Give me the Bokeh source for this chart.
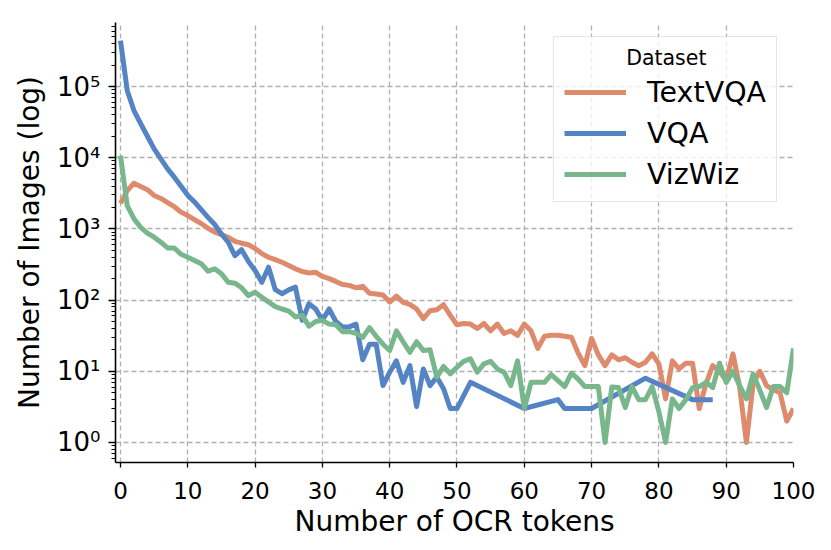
from bokeh.plotting import figure
from bokeh.models import (Range1d, FixedTicker, CustomJSTickFormatter, Legend, LegendItem,
                          Label, BoxAnnotation)
from bokeh.embed import file_html
from bokeh.resources import INLINE

# ---- data ----
tokens = list(range(0, 101))

textvqa = [2280, 3450, 4380, 3950, 3560, 2950, 2680, 2340, 2050, 1720,
           1540, 1350, 1190, 1020, 900, 830, 760, 670, 630, 600,
           530, 450, 400, 370, 340, 307, 275, 252, 240, 246,
           215, 200, 183, 166, 161, 149, 156, 125, 122, 118,
           94, 114, 93, 87, 75, 55, 71, 73, 86, 61,
           45, 47, 46, 40, 47, 37, 46, 34, 37, 32,
           46, 37, 21, 31, 32, 32, 31, 30, 18, 12,
           29, 17, 12, 17, 14.5, 15.5, 13.4, 12, 13.4, 17.6,
           12.7, 4.1, 14, 10.8, 13, 13, 3, 6.7, 12, 10,
           7.4, 17.6, 6, 1, 6.7, 10, 6.3, 5.5, 5, 2,
           3]

vqa_tokens = list(range(0, 51)) + [52, 60, 65, 66, 70, 78, 85, 88]
vqa = [440000, 88000, 46000, 30000, 20000, 13300, 9600, 6950, 5330, 3960,
       2960, 2390, 1860, 1450, 1150, 850, 650, 420, 510, 350,
       260, 178, 290, 140, 123, 139, 152, 52, 89, 75,
       52, 75, 50, 42, 42, 46, 14.5, 24, 24, 6.3,
       9.7, 14, 7, 12, 3.2, 10.8, 6.3, 8.3, 5.7, 3,
       3, 7, 3, 4, 3, 3, 8, 4, 4]

vizwiz = [10700, 2130, 1390, 1050, 870, 765, 650, 540, 540, 440,
          400, 360, 325, 255, 275, 235, 178, 173, 149, 116,
          129, 110, 94, 81, 75, 70, 58, 61, 43, 50,
          52, 46, 45, 36, 36, 34, 30, 41, 31, 24,
          19.6, 37, 26, 18.5, 26, 19.6, 20, 8.3, 11.7, 9.2,
          11.4, 13.8, 15, 9.7, 12.7, 13.8, 10.8, 9.7, 6.3, 14,
          3, 7, 7, 7, 9, 7.4, 6.1, 9.4, 7.8, 6.1,
          6.1, 6.1, 1, 6, 5.9, 3.1, 6.1, 4, 4, 6.1,
          2.7, 1, 4.1, 3, 4, 5.9, 6.1, 7, 5.9, 13,
          7, 10, 6.3, 4.1, 9.2, 5.4, 3.1, 6.1, 6.1, 5,
          21]

series_names = ["TextVQA", "VQA", "VizWiz"]
legend_title = "Dataset"
colors = ["#DD8B6C", "#5584C4", "#78B68B"]
x_ticks = [0, 10, 20, 30, 40, 50, 60, 70, 80, 90, 100]
y_ticks = [1, 10, 100, 1000, 10000, 100000]

FONT = "DejaVu Sans"

p = figure(width=823, height=542, y_axis_type="log",
           x_range=Range1d(-0.74, 100), y_range=Range1d(10 ** -0.281, 10 ** 5.899),
           output_backend="svg", toolbar_location=None,
           min_border_left=115, min_border_right=30, min_border_top=22, min_border_bottom=80)
p.outline_line_color = None
p.background_fill_color = "white"
p.border_fill_color = "white"

renderers = []
for xs, ys, c in [(tokens, textvqa, colors[0]), (vqa_tokens, vqa, colors[1]), (tokens, vizwiz, colors[2])]:
    r = p.line(xs, ys, line_color=c, line_width=5, line_join="round", line_cap="butt")
    renderers.append(r)

# axes
p.xaxis.ticker = FixedTicker(ticks=x_ticks)
minor = [m * 10 ** k for k in range(-1, 6) for m in range(2, 10)]
p.yaxis.ticker = FixedTicker(ticks=y_ticks, minor_ticks=minor)
p.yaxis.formatter = CustomJSTickFormatter(code="""
const sup = ['\u2070','\u00b9','\u00b2','\u00b3','\u2074','\u2075','\u2076','\u2077','\u2078','\u2079'];
const e = Math.round(Math.log10(tick));
let s = String(Math.abs(e)).split('').map(c => sup[+c]).join('');
if (e < 0) s = '\u207b' + s;
return '10' + s;
""")

for ax in [p.xaxis[0], p.yaxis[0]]:
    ax.axis_line_color = "black"
    ax.axis_line_width = 1.6
    ax.major_tick_line_color = "black"
    ax.major_tick_line_width = 1.3
    ax.minor_tick_line_color = "black"
    ax.minor_tick_line_width = 1.0
    ax.major_tick_in = 0
    ax.minor_tick_in = 0
    ax.major_label_text_font = FONT
    ax.axis_label_text_font = FONT
    ax.axis_label_text_font_style = "normal"
    ax.major_label_text_color = "black"
    ax.axis_label_text_color = "black"

p.xaxis.major_tick_out = 5
p.xaxis.minor_tick_out = 0
p.xaxis.major_label_text_font_size = "23px"
p.xaxis.major_label_standoff = 14
p.xaxis.axis_label = "Number of OCR tokens"
p.xaxis.axis_label_text_font_size = "28px"
p.xaxis.axis_label_standoff = 3

p.yaxis.major_tick_out = 7
p.yaxis.minor_tick_out = 4
p.yaxis.major_label_text_font_size = "26px"
p.yaxis.major_label_standoff = 8
p.yaxis.axis_label = "Number of Images (log)"
p.yaxis.axis_label_text_font_size = "28px"
p.yaxis.axis_label_standoff = 8

for g in [p.xgrid[0], p.ygrid[0]]:
    g.grid_line_color = "#b0b0b0"
    g.grid_line_width = 1.3
    g.grid_line_dash = "5 3"

# semi-opaque white panel behind the legend (same footprint as the legend box)
p.add_layout(BoxAnnotation(left=64.34, right=97.6, bottom=10 ** 3.371, top=10 ** 5.702,
                           fill_color="white", fill_alpha=0.8, line_color=None))

# centred legend title
p.add_layout(Label(x=81.1, y=10 ** 5.407, text=legend_title, text_align="center",
                   text_baseline="middle", text_font=FONT, text_font_size="20.5px",
                   text_color="black"))

legend = Legend(items=[LegendItem(label=n, renderers=[r]) for n, r in zip(series_names, renderers)],
                location=(438, 260), title=" ")
legend.title_text_font = FONT
legend.title_text_font_size = "20px"
legend.title_standoff = 4
legend.label_text_font = FONT
legend.label_text_font_size = "28.5px"
legend.label_text_color = "black"
legend.label_height = 34
legend.glyph_height = 34
legend.glyph_width = 62
legend.label_standoff = 21
legend.spacing = 7
legend.padding = 10
legend.border_line_color = "#cccccc"
legend.border_line_width = 1.3
legend.background_fill_alpha = 0.0
p.add_layout(legend, "center")

open("out.html", "w").write(file_html(p, INLINE))
